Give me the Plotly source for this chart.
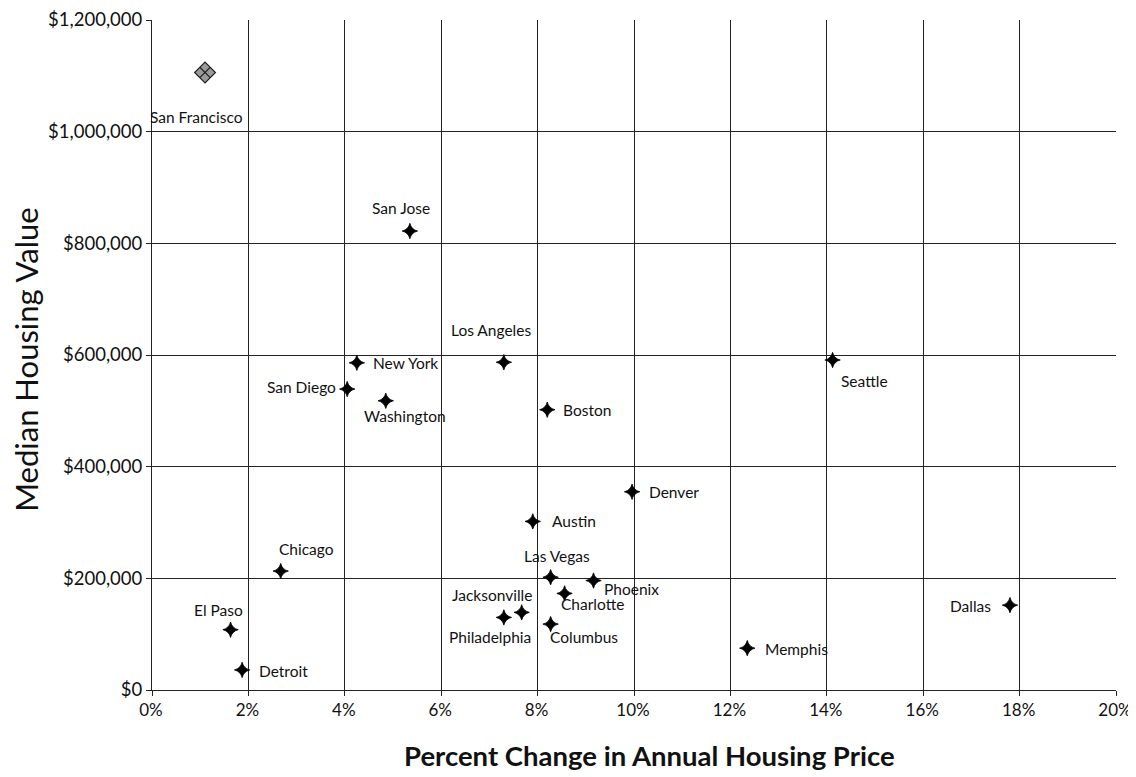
import plotly.graph_objects as go

cities = ["San Francisco", "San Jose", "Los Angeles", "New York", "San Diego",
          "Washington", "Boston", "Seattle", "Denver", "Austin", "Chicago",
          "Las Vegas", "Phoenix", "Charlotte", "Jacksonville", "Philadelphia",
          "Columbus", "Memphis", "Dallas", "El Paso", "Detroit"]
pct_change = [1.10, 5.35, 7.30, 4.25, 4.05, 4.85, 8.20, 14.12, 9.96, 7.90, 2.67,
              8.27, 9.16, 8.56, 7.67, 7.30, 8.27, 12.35, 17.80, 1.63, 1.87]
median_value = [1106000, 822000, 587000, 586000, 539000, 518000, 502000, 591000,
                355000, 302000, 213000, 202000, 196000, 173000, 139000, 130000,
                118000, 75000, 152000, 108000, 36000]

x_ticks = [0, 2, 4, 6, 8, 10, 12, 14, 16, 18, 20]
y_ticks = [0, 200000, 400000, 600000, 800000, 1000000, 1200000]

x_title = "Percent Change in Annual Housing Price"
y_title = "Median Housing Value"

# label placement (pixels): xshift, yshift, xanchor
label_pos = {
    "San Francisco": (-9, -45, "center"),
    "San Jose": (-9, 23, "center"),
    "Los Angeles": (-13, 32, "center"),
    "New York": (14, 0, "left"),
    "San Diego": (-9, 2, "right"),
    "Washington": (19, -15, "center"),
    "Boston": (14, 0, "left"),
    "Seattle": (6, -21, "left"),
    "Denver": (15, 0, "left"),
    "Austin": (17, 0, "left"),
    "Chicago": (26, 22, "center"),
    "Las Vegas": (6, 21, "center"),
    "Phoenix": (8, -8, "left"),
    "Charlotte": (28, -11, "center"),
    "Jacksonville": (-30, 17, "center"),
    "Philadelphia": (-14, -20, "center"),
    "Columbus": (33, -13, "center"),
    "Memphis": (16, -1, "left"),
    "Dallas": (-17, -1, "right"),
    "El Paso": (-12, 20, "center"),
    "Detroit": (15, -1, "left"),
}

FONT = "Lato, 'Open Sans', sans-serif"

fig = go.Figure()
sf = [i for i, c in enumerate(cities) if c == "San Francisco"]
rest = [i for i, c in enumerate(cities) if c != "San Francisco"]

fig.add_trace(go.Scatter(
    x=[pct_change[i] for i in rest], y=[median_value[i] for i in rest],
    mode="markers", text=[cities[i] for i in rest],
    marker=dict(symbol="star-diamond", size=11, color="black",
                line=dict(color="black", width=0.8)),
    showlegend=False, hoverinfo="text"))
fig.add_trace(go.Scatter(
    x=[pct_change[i] for i in sf], y=[median_value[i] for i in sf],
    mode="markers", text=[cities[i] for i in sf],
    marker=dict(symbol="diamond-x", size=16, color="#9a9a9a",
                line=dict(color="#222", width=1.2)),
    showlegend=False, hoverinfo="text"))

for c, xv, yv in zip(cities, pct_change, median_value):
    dx, dy, anc = label_pos[c]
    fig.add_annotation(x=xv, y=yv, xref="x", yref="y", text=c, showarrow=False,
                       xshift=dx, yshift=dy, xanchor=anc, yanchor="middle",
                       font=dict(family=FONT, size=15.5, color="#111"))

# axis titles
fig.add_annotation(x=0.5156, y=-0.098, xref="paper", yref="paper",
                   text=f"<b>{x_title}</b>", showarrow=False,
                   xanchor="center", yanchor="middle",
                   font=dict(family=FONT, size=27.5, color="#111"))
fig.add_annotation(x=-0.131, y=0.4925, xref="paper", yref="paper",
                   text=y_title, showarrow=False, textangle=-90,
                   xanchor="center", yanchor="middle",
                   font=dict(family=FONT, size=31, color="#111"))

fig.update_layout(
    width=1128, height=769,
    margin=dict(l=144, r=20, t=12, b=87),
    paper_bgcolor="white", plot_bgcolor="white",
    font=dict(family=FONT, color="#111"),
)
fig.update_xaxes(
    range=[0, 20], tickvals=x_ticks, ticktext=[f"{v}%" for v in x_ticks],
    showgrid=True, gridcolor="#222", gridwidth=1, automargin=False,
    showline=True, linecolor="#222", linewidth=1, mirror=False,
    ticks="outside", ticklen=5, tickcolor="#222", ticklabelshift=-1,
    zeroline=False, tickfont=dict(size=17, family=FONT),
)
fig.update_yaxes(
    range=[0, 1200000], tickvals=y_ticks,
    ticktext=[f"${v:,}" for v in y_ticks],
    showgrid=True, gridcolor="#222", gridwidth=1, automargin=False,
    showline=True, linecolor="#222", linewidth=1,
    ticks="outside", ticklen=5, tickcolor="#222",
    zeroline=False, tickfont=dict(size=18.5, family=FONT),
)

fig.write_html("out.html")
